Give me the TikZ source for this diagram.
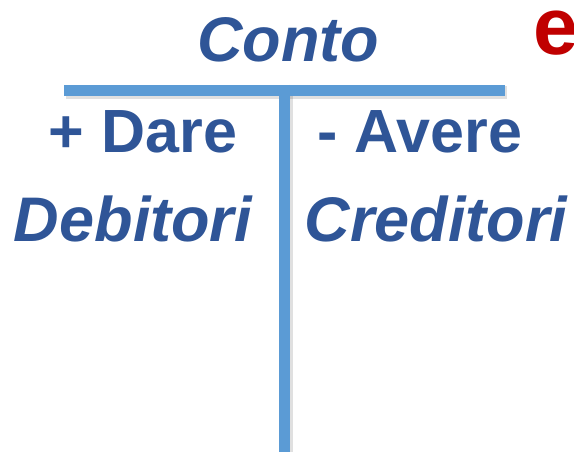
\documentclass[tikz,border=0pt]{standalone}
\usepackage{fontspec}
\setmainfont{Liberation Sans}
\definecolor{txtblue}{HTML}{2F5597}
\definecolor{lineblue}{HTML}{5B9BD5}
\definecolor{darkred}{HTML}{C00000}
\tikzset{
  lbl/.style={text=txtblue, inner sep=0pt, anchor=base, font=\bfseries\fontsize{61}{68}\selectfont},
  ilbl/.style={text=txtblue, inner sep=0pt, anchor=base, font=\bfseries\itshape\fontsize{63}{70}\selectfont},
  tline/.style={lineblue, line width=11pt},
  tshadow/.style={black, opacity=0.12, line width=13pt},
}
\begin{document}
\begin{tikzpicture}[x=1pt,y=-1pt]
\useasboundingbox (0,0) rectangle (574,452);
\clip (0,0) rectangle (574,452);
\fill[white] (0,0) rectangle (574,452);
% T-account lines
\coordinate (hl) at (64,90.5);
\coordinate (hr) at (505,90.5);
\coordinate (vt) at (284.5,85);
\coordinate (vb) at (284.5,460);
\coordinate (hls) at (66,93);
\coordinate (hrs) at (507,93);
\coordinate (vts) at (286.5,96);
\coordinate (vbs) at (286.5,460);
\draw[tshadow] (hls) -- (hrs);
\draw[tshadow] (vts) -- (vbs);
\draw[tline] (hl) -- (hr);
\draw[tline] (vt) -- (vb);
% texts
\node[ilbl] (conto) at (288,62) {Conto};
\node[text=darkred, inner sep=0pt, anchor=base west, font=\bfseries\fontsize{81}{90}\selectfont] (e) at (533,55) {e};
\node[lbl] (dare) at (143,153) {+ Dare};
\node[lbl] (avere) at (420,153) {- Avere};
\node[ilbl] (debitori) at (133,241) {Debitori};
\node[ilbl] (creditori) at (436,241) {Creditori};
\end{tikzpicture}
\end{document}
